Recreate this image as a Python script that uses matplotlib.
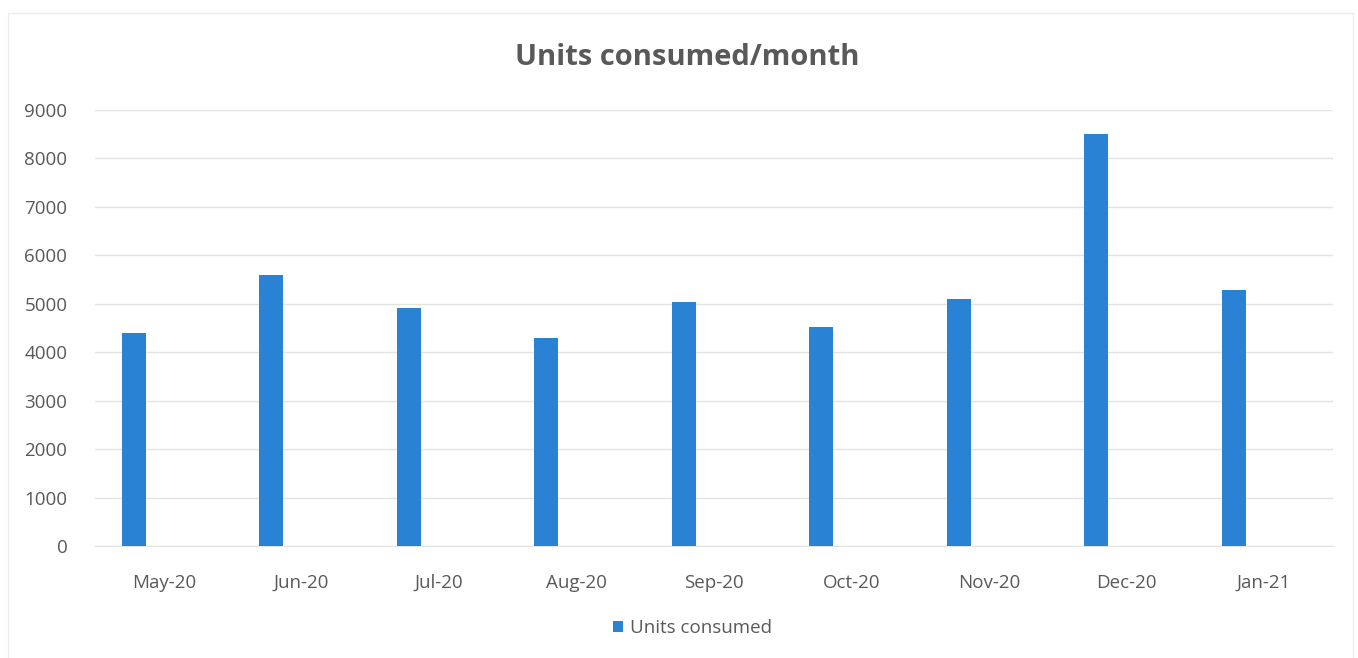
import matplotlib
matplotlib.use("Agg")
import matplotlib.pyplot as plt
from matplotlib.patches import Rectangle
import numpy as np

months = ["May-20", "Jun-20", "Jul-20", "Aug-20", "Sep-20", "Oct-20", "Nov-20", "Dec-20", "Jan-21"]
units = [4400, 5590, 4910, 4290, 5040, 4530, 5100, 8500, 5280]

plt.rcParams['font.family'] = ['Open Sans', 'DejaVu Sans']
grey = '#595959'
blue = '#2a82d4'

fig = plt.figure(figsize=(13.58, 6.58), dpi=100)
ax = fig.add_axes([0.07, 0.1702, 0.9115, 0.6626])

x = np.arange(len(months))
ax.bar(x - 0.22, units, width=0.175, color=blue, label='Units consumed', zorder=3)

ax.set_xlim(-0.5, len(months) - 0.5)
ax.set_ylim(0, 9000)
ax.set_yticks(range(0, 9001, 1000))
ax.set_xticks(x)
ax.set_xticklabels(months)
ax.tick_params(axis='both', length=0, labelsize=13.5, labelcolor=grey)
ax.tick_params(axis='x', pad=20)
ax.tick_params(axis='y', pad=20)
ax.grid(axis='y', color='#e3e3e3', linewidth=1, zorder=0)
for s in ['top', 'right', 'left']:
    ax.spines[s].set_visible(False)
ax.spines['bottom'].set_color('#e3e3e3')

fig.text(0.506, 0.912, 'Units consumed/month', ha='center', va='center',
         fontsize=21, fontweight='bold', color=grey)

fig.legend(loc='center', bbox_to_anchor=(0.51, 0.045), frameon=False,
           fontsize=13.5, labelcolor=grey, handlelength=0.5, handleheight=0.5,
           handletextpad=0.4)

# faint chart border
fig.patches.append(Rectangle((0.006, -0.02), 0.99, 1.0, transform=fig.transFigure,
                             fill=False, edgecolor='#ececec', linewidth=1))

fig.savefig('out.png', dpi=100)
